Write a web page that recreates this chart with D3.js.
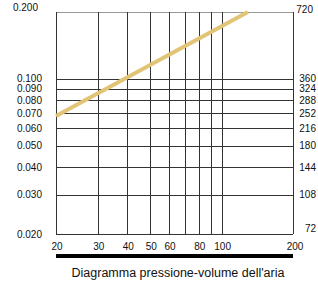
<!DOCTYPE html>
<html lang="it">
<head>
<meta charset="UTF-8">
<title>Diagramma pressione-volume dell'aria</title>
<script src="https://d3js.org/d3.v7.min.js"></script>
<style>
    body { margin: 0; background: #fff; font-family: "Liberation Sans", Arial, sans-serif; }
    svg { display: block; }
</style>
</head>
<body>
<div id="chart"></div>
<script>
    // Asse x (volume), asse y sinistro e destro (pressione)
    const xTicks = [20, 30, 40, 50, 60, 70, 80, 90, 100, 200];
    const xLabels = ['20', '30', '40', '50', '60', '', '80', '', '100', '200'];
    const yTicks = [0.020, 0.030, 0.040, 0.050, 0.060, 0.070, 0.080, 0.090, 0.100, 0.200];
    const yRightLabels = [72, 108, 144, 180, 216, 252, 288, 324, 360, 720];
    // Curva (retta in scala log-log)
    const curveX = [20, 129];
    const curveY = [0.068, 0.200];

    const width = 318, height = 286;
    const margin = { top: 12, right: 25, bottom: 52, left: 56 };
    const w = width - margin.left - margin.right;
    const h = height - margin.top - margin.bottom;

    const svg = d3.select('#chart').append('svg')
        .attr('width', width)
        .attr('height', height);

    const g = svg.append('g')
        .attr('transform', `translate(${margin.left}, ${margin.top})`);

    const x = d3.scaleLog().domain([20, 200]).range([0, w]);
    const y = d3.scaleLog().domain([0.020, 0.200]).range([h, 0]);

    // Griglia
    g.selectAll('.hline')
        .data(yTicks)
        .enter().append('line')
        .attr('x1', 0).attr('x2', w)
        .attr('y1', d => Math.round(y(d)) + 0.5)
        .attr('y2', d => Math.round(y(d)) + 0.5)
        .attr('stroke', (d, i) => i === yTicks.length - 1 ? '#999' : '#333')
        .attr('stroke-width', 1);

    g.selectAll('.vline')
        .data(xTicks)
        .enter().append('line')
        .attr('x1', d => Math.round(x(d)) + 0.5)
        .attr('x2', d => Math.round(x(d)) + 0.5)
        .attr('y1', 0).attr('y2', h)
        .attr('stroke', '#333')
        .attr('stroke-width', 1);

    // Curva
    const line = d3.line()
        .x(d => x(d[0]))
        .y(d => y(d[1]));

    g.append('path')
        .datum(curveX.map((v, i) => [v, curveY[i]]))
        .attr('fill', 'none')
        .attr('stroke', '#e2c477')
        .attr('stroke-width', 4)
        .attr('d', line);

    // Etichette asse sinistro
    g.selectAll('.ylab')
        .data(yTicks)
        .enter().append('text')
        .attr('x', (d, i) => i === yTicks.length - 1 ? -18 : -14)
        .attr('y', (d, i) => y(d) + (i === yTicks.length - 1 ? -1 : 3.5))
        .attr('text-anchor', 'end')
        .attr('font-size', 10)
        .attr('fill', '#111')
        .text(d => d.toFixed(3));

    // Etichette asse destro
    g.selectAll('.yrlab')
        .data(yRightLabels)
        .enter().append('text')
        .attr('x', (d, i) => i === yRightLabels.length - 1 ? w + 20 : w + 23)
        .attr('y', (d, i) => y(yTicks[i]) + (i === 0 ? -2 : (i === yRightLabels.length - 1 ? 1 : 3.5)))
        .attr('text-anchor', 'end')
        .attr('font-size', 10)
        .attr('fill', '#111')
        .text(d => d);

    // Etichette asse x
    g.selectAll('.xlab')
        .data(xTicks)
        .enter().append('text')
        .attr('x', d => x(d) + (d === 200 ? 2 : 1))
        .attr('y', h + 16)
        .attr('text-anchor', 'middle')
        .attr('font-size', 10)
        .attr('fill', '#111')
        .text((d, i) => xLabels[i]);

    // Barra nera
    g.append('rect')
        .attr('x', x(20))
        .attr('y', h + 20)
        .attr('width', x(200) - x(20))
        .attr('height', 4)
        .attr('fill', '#000');

    // Titolo
    svg.append('text')
        .attr('x', 178)
        .attr('y', 277)
        .attr('text-anchor', 'middle')
        .attr('font-size', 12.5)
        .attr('fill', '#111')
        .text("Diagramma pressione-volume dell'aria");
</script>
</body>
</html>
